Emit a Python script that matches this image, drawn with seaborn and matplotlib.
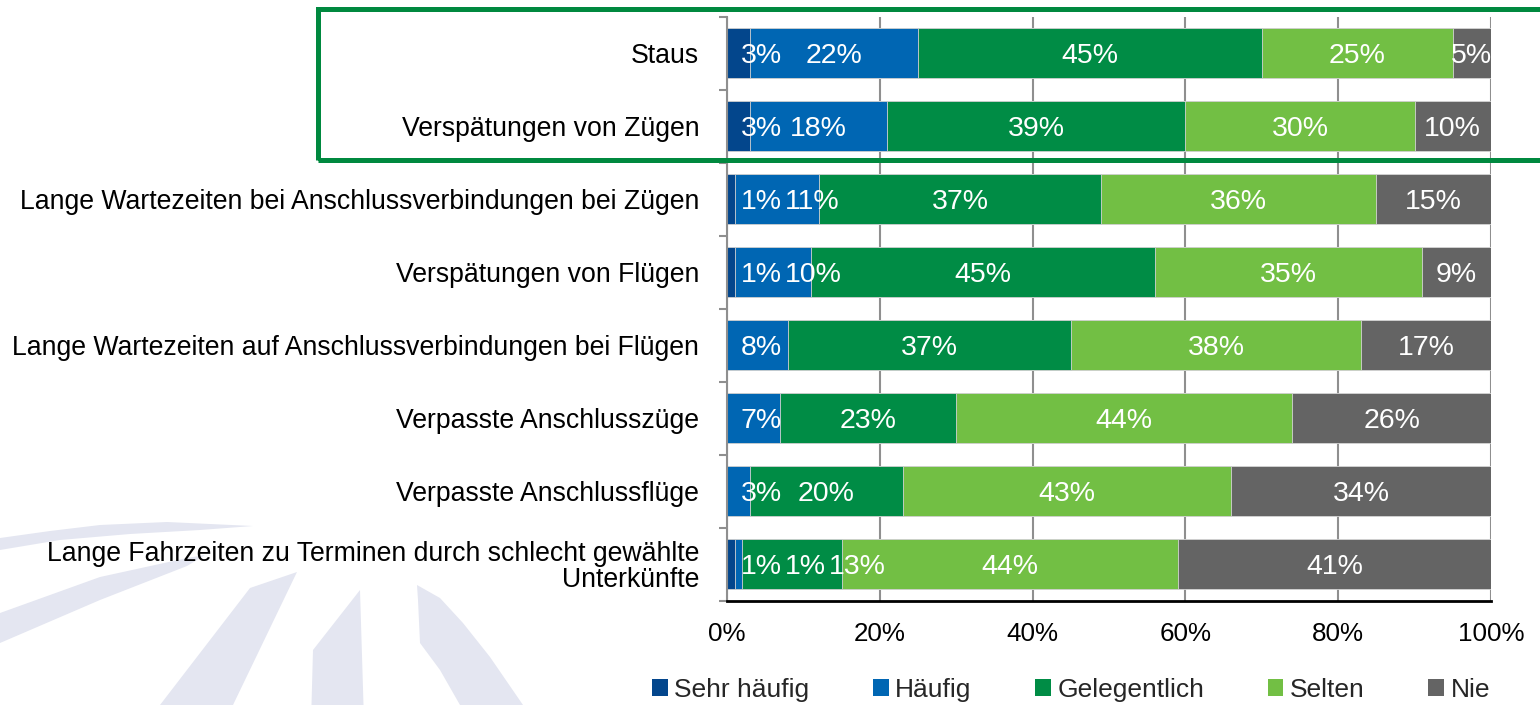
import numpy as np
import pandas as pd
import matplotlib
matplotlib.use("Agg")
import matplotlib.pyplot as plt
import seaborn as sns
from matplotlib.patches import Polygon, Rectangle, Patch
from matplotlib.ticker import FixedLocator

# ---------------- data ----------------
categories = [
    "Staus",
    "Verspätungen von Zügen",
    "Lange Wartezeiten bei Anschlussverbindungen bei Zügen",
    "Verspätungen von Flügen",
    "Lange Wartezeiten auf Anschlussverbindungen bei Flügen",
    "Verpasste Anschlusszüge",
    "Verpasste Anschlussflüge",
    "Lange Fahrzeiten zu Terminen durch schlecht gewählte\nUnterkünfte",
]
series_names = ["Sehr häufig", "Häufig", "Gelegentlich", "Selten", "Nie"]
sehr_haeufig = [3, 3, 1, 1, 0, 0, 0, 1]
haeufig = [22, 18, 11, 10, 8, 7, 3, 1]
gelegentlich = [45, 39, 37, 45, 37, 23, 20, 13]
selten = [25, 30, 36, 35, 38, 44, 43, 44]
nie = [5, 10, 15, 9, 17, 26, 34, 41]
x_ticks = [0, 20, 40, 60, 80, 100]
x_tick_labels = ["0%", "20%", "40%", "60%", "80%", "100%"]

colors = ["#03468c", "#0066b3", "#008c45", "#72bf44", "#646464"]

# ---------------- style ----------------
sns.set_theme(style="white")
plt.rcParams["font.family"] = ["Liberation Sans", "DejaVu Sans"]

W, H = 1540, 705
fig = plt.figure(figsize=(W / 100, H / 100), dpi=100)
fig.patch.set_facecolor("white")


def fx(x):
    return x / W


def fy(y):
    return 1 - y / H


ax = fig.add_axes([fx(727), fy(600.5), (1491 - 727) / W, (600.5 - 16.5) / H])
ax.set_facecolor("none")

df = pd.DataFrame({"Kategorie": categories})
for name, vals in zip(series_names, [sehr_haeufig, haeufig, gelegentlich, selten, nie]):
    df[name] = vals
cum = df[series_names].cumsum(axis=1)
cum["Kategorie"] = categories

# stacked bars: draw cumulative totals from the largest down
for name, color in reversed(list(zip(series_names, colors))):
    sns.barplot(data=cum, x=name, y="Kategorie", orient="h", color=color,
                saturation=1, width=0.685, edgecolor="#d4d4d4", linewidth=0.6,
                ax=ax, zorder=2)

ax.set_xlim(0, 100)
ax.set_ylim(len(categories) - 0.5, -0.5)
ax.set_xlabel("")
ax.set_ylabel("")

# grid and spines
ax.set_axisbelow(True)
ax.xaxis.set_major_locator(FixedLocator(x_ticks))
ax.set_xticklabels(x_tick_labels)
ax.grid(axis="x", color="#8f8f8f", linewidth=1.5, zorder=0)
ax.grid(axis="y", visible=False)
for s in ["top", "right"]:
    ax.spines[s].set_visible(False)
ax.spines["left"].set_color("#8f8f8f")
ax.spines["left"].set_linewidth(1.5)
ax.spines["bottom"].set_color("black")
ax.spines["bottom"].set_linewidth(2.0)

ax.tick_params(axis="x", which="major", direction="out", length=6, width=1.5,
               color="black", pad=9.5, labelsize=18.7, labelcolor="black")
ax.tick_params(axis="y", which="major", length=0, pad=20, labelsize=19.2,
               labelcolor="black")
ax.yaxis.set_minor_locator(FixedLocator(np.arange(-0.5, len(categories), 1.0)))
ax.tick_params(axis="y", which="minor", direction="out", length=5.5, width=1.5,
               color="#8f8f8f", left=True)
for lbl in ax.get_yticklabels():
    lbl.set_multialignment("right")
    lbl.set_linespacing(1.0)

# value labels
values = df[series_names].to_numpy()
starts = np.hstack([np.zeros((len(categories), 1)), np.cumsum(values, axis=1)[:, :-1]])
row_texts = []
for i in range(len(categories)):
    items = []
    for j in range(len(series_names)):
        v = values[i, j]
        if v <= 0:
            continue
        c = starts[i, j] + v / 2
        t = ax.text(c, i + 0.04, f"{v}%", ha="center", va="center", color="white",
                    fontsize=20.5, zorder=5)
        items.append((t, c))
    row_texts.append(items)

fig.canvas.draw()
renderer = fig.canvas.get_renderer()
ax_w = ax.get_window_extent(renderer).width
for items in row_texts:
    prev_right = 1.8
    for t, c in items:
        w = t.get_window_extent(renderer).width / ax_w * 100
        left = max(c - w / 2, prev_right)
        t.set_x(left + w / 2)
        prev_right = left + w + 0.4

# legend
handles = [Patch(facecolor=c, edgecolor="none") for c in colors]
fig.legend(handles, series_names, loc="center", bbox_to_anchor=(fx(1071), fy(690)),
           ncol=5, frameon=False, fontsize=19, handlelength=0.6, handleheight=0.6,
           handletextpad=0.25, columnspacing=2.4, borderaxespad=0, borderpad=0)

# decorative watermark (background logo)
wm = "#e4e6f1"
shapes = [
    [(0, 538), (50, 531), (100, 525), (167, 522), (253, 526), (200, 530),
     (130, 534), (60, 540), (0, 550)],
    [(0, 613), (100, 577), (187, 558), (205, 555), (187, 566), (100, 600), (0, 643)],
    [(250, 588), (297, 572), (233, 705), (160, 705)],
    [(360, 590), (363.5, 705), (311.5, 705), (313, 650)],
    [(417, 585), (440, 598), (463, 623), (490, 657), (523, 705), (460, 705),
     (440, 670), (420, 643), (418, 600)],
]
for pts in shapes:
    fig.patches.append(Polygon([(fx(x), fy(y)) for x, y in pts], closed=True,
                               facecolor=wm, edgecolor="none",
                               transform=fig.transFigure, zorder=-5))

# green highlight frame
fig.patches.append(Rectangle((fx(318), fy(160)), (1560 - 318) / W, (160 - 9.5) / H,
                             fill=False, edgecolor="#00893f", linewidth=3.6,
                             transform=fig.transFigure, zorder=10))

fig.savefig("out.png", dpi=100, facecolor="white")
